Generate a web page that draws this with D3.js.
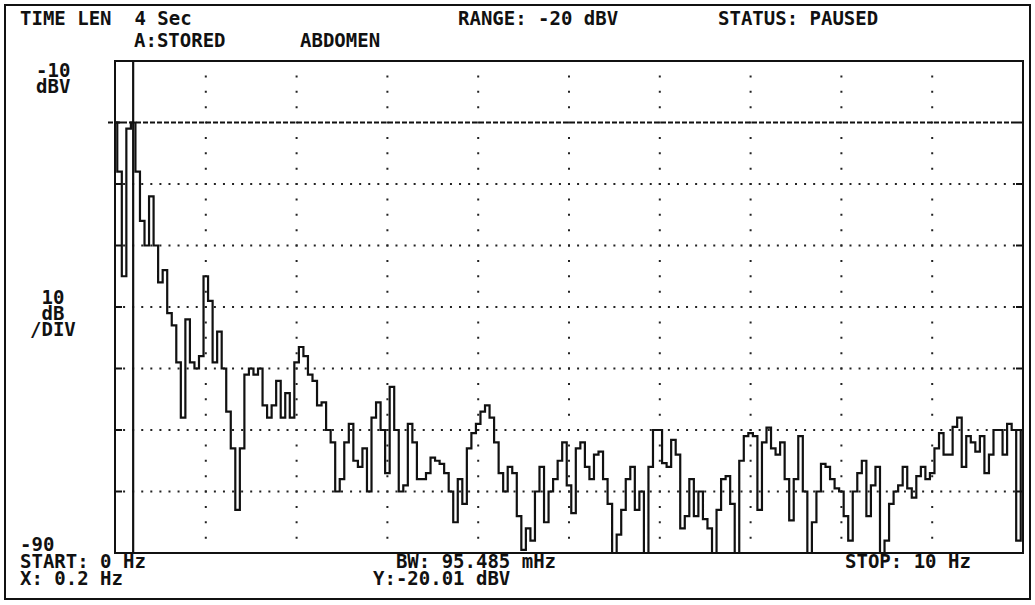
<!DOCTYPE html>
<html>
<head>
<meta charset="utf-8">
<script src="https://cdn.jsdelivr.net/npm/d3@7"></script>
<style>
  html, body { margin: 0; padding: 0; background: #fff; }
  text { font-family: "DejaVu Sans Mono", "Liberation Mono", monospace; font-weight: bold; font-size: 19px; fill: #111; white-space: pre; }
</style>
</head>
<body>
<div id="chart"></div>
<script>
// spectrum trace, one level per 0.05 Hz bin from 0 to 10 Hz (dBV)
const freqStart = 0;
const freqStep = 0.05;
const levels = [
  -20, -28, -45, -21, -20, -28, -36, -40, -32, -40,
  -46, -44, -51, -53, -59, -68, -52, -59, -60, -58,
  -45, -49, -59, -54, -60, -67, -73, -83, -73, -61,
  -60, -61, -60, -66, -68, -66, -62, -68, -64, -68,
  -59, -56.5, -58, -61, -62, -66, -65.5, -70, -72, -80,
  -78, -72, -69, -75, -76, -73, -80, -68, -65.5, -70,
  -77, -63, -70, -80, -79, -69, -72, -78, -78, -77,
  -74.5, -75, -75.5, -77, -80, -85, -78, -82, -73, -70.5,
  -69, -67, -66, -68, -72, -77, -80, -76, -77, -84,
  -89.5, -86, -88, -80, -76, -85, -80, -78, -75, -72,
  -79, -83.5, -73, -72, -76, -78, -74, -73.5, -78, -82,
  -90, -87, -83, -78, -76, -83, -80, -90, -76, -70,
  -70, -75.4, -76, -71.6, -74, -86, -84, -78, -84, -80,
  -84.5, -86, -90, -83, -78, -77.5, -82, -90, -75, -71,
  -70.5, -71, -83, -72, -69.6, -73, -74, -72, -78, -84.7,
  -78, -71, -80, -90, -85, -80, -75.5, -76, -78, -79.5,
  -80, -84, -88, -80, -77, -75, -84, -79, -76, -90,
  -88, -82, -80, -79, -76, -79.5, -81, -77.5, -76, -78,
  -77, -73, -70.5, -74, -74, -69.5, -68, -76, -71, -72,
  -73.5, -71, -77, -74, -70, -70, -74, -69, -70, -88,
  -70
];

// grid / marker values
const freqDomain = [0, 10];
const levelDomain = [-90, -10];
const freqGrid = [1, 2, 3, 4, 5, 6, 7, 8, 9];
const levelGrid = [-80, -70, -60, -50, -40, -30, -20];
const markerFreq = 0.2;
const markerLevel = -20.01;

// screen texts
const headerTexts = ["TIME LEN  4 Sec", "RANGE: -20 dBV", "STATUS: PAUSED"];
const traceTexts = ["A:STORED", "ABDOMEN"];
const yTopLabel = ["-10", "dBV"];
const yScaleLabel = [" 10", " dB", "/DIV"];
const footerLeft = ["-90", "START: 0 Hz", "X: 0.2 Hz"];
const footerMid = ["  BW: 95.485 mHz", "Y:-20.01 dBV"];
const footerRight = "STOP: 10 Hz";

const W = 1035, H = 605;
const plot = { left: 115, right: 1023, top: 61, bottom: 553 };

const svg = d3.select("#chart")
  .append("svg")
  .attr("width", W)
  .attr("height", H);

svg.append("rect").attr("width", W).attr("height", H).attr("fill", "#fff");

// outer frame of the screen
svg.append("rect")
  .attr("x", 5).attr("y", 5)
  .attr("width", 1025).attr("height", 594)
  .attr("fill", "none")
  .attr("stroke", "#111")
  .attr("stroke-width", 2);

const x = d3.scaleLinear().domain(freqDomain).range([plot.left, plot.right]);
const y = d3.scaleLinear().domain(levelDomain).range([plot.bottom, plot.top]);

const hStep = (x(1) - x(0)) / 10;   // dot pitch along horizontal grid
const vStep = (y(-20) - y(-10)) / 4; // dot pitch along vertical grid

// horizontal dotted grid (skip -20, covered by the marker line)
svg.append("g")
  .selectAll("line")
  .data(levelGrid.filter(d => d !== -20))
  .join("line")
  .attr("x1", plot.left - 1)
  .attr("x2", plot.right)
  .attr("y1", d => y(d))
  .attr("y2", d => y(d))
  .attr("stroke", "#222")
  .attr("stroke-width", 2)
  .attr("stroke-dasharray", `2 ${hStep - 2}`);

// vertical dotted grid
svg.append("g")
  .selectAll("line")
  .data(freqGrid)
  .join("line")
  .attr("x1", d => x(d))
  .attr("x2", d => x(d))
  .attr("y1", plot.top - 1)
  .attr("y2", plot.bottom)
  .attr("stroke", "#222")
  .attr("stroke-width", 2)
  .attr("stroke-dasharray", `2 ${vStep - 2}`);

// small ticks at left and right edges
const ticks = svg.append("g").attr("stroke", "#111").attr("stroke-width", 2);
ticks.selectAll("line.l")
  .data(levelGrid)
  .join("line")
  .attr("class", "l")
  .attr("x1", plot.left).attr("x2", plot.left + 7)
  .attr("y1", d => y(d)).attr("y2", d => y(d));
ticks.selectAll("line.r")
  .data(levelGrid)
  .join("line")
  .attr("class", "r")
  .attr("x1", plot.right - 7).attr("x2", plot.right)
  .attr("y1", d => y(d)).attr("y2", d => y(d));

// Y marker: dashed line across the screen
svg.append("line")
  .attr("x1", plot.left - 7)
  .attr("x2", plot.right - 6)
  .attr("y1", y(markerLevel))
  .attr("y2", y(markerLevel))
  .attr("stroke", "#111")
  .attr("stroke-width", 2)
  .attr("stroke-dasharray", "5 2");

// clip for the trace
svg.append("clipPath").attr("id", "plotclip")
  .append("rect")
  .attr("x", plot.left).attr("y", plot.top)
  .attr("width", plot.right - plot.left)
  .attr("height", plot.bottom - plot.top);

const pts = levels.map((v, i) => ({ f: freqStart + i * freqStep, v }));

const line = d3.line()
  .x(d => x(d.f))
  .y(d => y(d.v))
  .curve(d3.curveStep);

svg.append("path")
  .datum(pts)
  .attr("clip-path", "url(#plotclip)")
  .attr("fill", "none")
  .attr("stroke", "#111")
  .attr("stroke-width", 2.2)
  .attr("stroke-linejoin", "miter")
  .attr("d", line);

// plot border
svg.append("rect")
  .attr("x", plot.left).attr("y", plot.top)
  .attr("width", plot.right - plot.left)
  .attr("height", plot.bottom - plot.top)
  .attr("fill", "none")
  .attr("stroke", "#111")
  .attr("stroke-width", 2);

// X marker: solid vertical line
svg.append("line")
  .attr("x1", x(markerFreq)).attr("x2", x(markerFreq))
  .attr("y1", plot.top).attr("y2", plot.bottom)
  .attr("stroke", "#111")
  .attr("stroke-width", 2.2);

// texts
function label(str, tx, ty) {
  svg.append("text").attr("x", tx).attr("y", ty).text(str);
}

// stacked lines go into one text element, one tspan per line
function block(lines, tx, ty, lh) {
  svg.append("text")
    .attr("x", tx).attr("y", ty)
    .selectAll("tspan")
    .data(lines)
    .join("tspan")
    .attr("x", tx)
    .attr("dy", (d, i) => (i === 0 ? 0 : lh))
    .text(d => d);
}

label(headerTexts[0], 20, 25);
label(headerTexts[1], 458, 25);
label(headerTexts[2], 718, 25);
label(traceTexts[0], 134, 47);
label(traceTexts[1], 300, 47);

block(yTopLabel, 36, 77, 16);
block(yScaleLabel, 30, 304, 16);
block(footerLeft, 20, 551, 17);
block(footerMid, 373, 568, 17);
label(footerRight, 845, 568);
</script>
</body>
</html>
